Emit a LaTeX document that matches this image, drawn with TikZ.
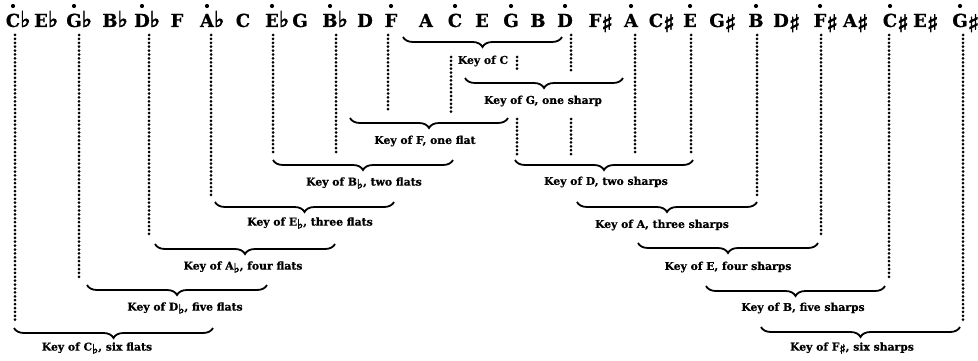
\documentclass[tikz,border=0pt]{standalone}
\usepackage{fontspec}
\setmainfont{DejaVu Serif}[BoldFeatures={FakeBold=0.6}]
\newfontfamily\accfont{DejaVu Sans}[FakeBold=2.5]
\usepackage{tikz}
\usetikzlibrary{decorations.pathreplacing}
\newcommand{\accfl}{{\accfont\fontsize{22}{22}\selectfont ♭}}
\newcommand{\accsh}{\raisebox{-5pt}{\accfont\fontsize{24}{24}\selectfont ♯}}
\newcommand{\keyfl}{\raisebox{-3pt}{\accfont\fontsize{13}{13}\selectfont ♭}}
\newcommand{\keysh}{\raisebox{-3pt}{\accfont\fontsize{13}{13}\selectfont ♯}}
\tikzset{
  notelbl/.style={anchor=base, inner sep=0pt, font=\bfseries\fontsize{18}{20}\selectfont},
  keylbl/.style={inner sep=0pt, font=\bfseries\fontsize{10.8}{12}\selectfont},
  keybrace/.style={decorate, decoration={brace, mirror, amplitude=10pt}, line width=1.8pt},
  guidedot/.style={fill=black},
  notedot/.style={fill, circle, inner sep=0pt, minimum size=4.2pt}
}
\begin{document}
\begin{tikzpicture}[x=1pt, y=-1pt]
  \useasboundingbox (0,0) rectangle (978,361);

  % row of notes, a third apart
  \foreach \x/\n/\a [count=\i from 0] in {13/C/\accfl, 41/E/\accfl, 74/G/\accfl, 110/B/\accfl,
      142/D/\accfl, 177/F/{}, 207/A/\accfl, 243/C/{}, 272/E/\accfl, 300/G/{}, 330/B/\accfl,
      365/D/{}, 391/F/{}, 426/A/{}, 455/C/{}, 482/E/{}, 511/G/{}, 538/B/{}, 565/D/{},
      595/F/\accsh, 631/A/{}, 656/C/\accsh, 690/E/{}, 717/G/\accsh, 756/B/{}, 781/D/\accsh,
      820/F/\accsh, 850/A/\accsh, 890/C/\accsh, 920/E/\accsh, 960/G/\accsh}
    \node[notelbl] (n\i) at (\x,27) {\n\rlap{\a}};

  % dots over the tonics
  \foreach \i in {0,2,...,30}
    \node[notedot] (d\i) at (n\i.base |- 0,6) {};

  % dotted guides
  \foreach \x/\ya/\yb in {15/35/320, 79/35/279, 149/35/237, 211/35/197, 273/35/154,
      336/35/153, 388/35/112, 451/57/113, 517/57/72, 517/119/155, 571/35/72, 571/119/155,
      635/35/153, 691/35/153, 757/35/197, 821/35/237, 889/35/279, 963/35/320}
  {
    \pgfmathsetmacro\yn{\ya+3.9}
    \foreach \y in {\ya,\yn,...,\yb}
      \fill[guidedot] (\x,\y) circle (1.5pt);
  }

  % keys
  \foreach \l/\r/\y/\lx/\ly/\t [count=\k] in {
      403/562/37/483/61/{Key of C},
      465/623/78/543/101/{Key of G, one sharp},
      350/508/118/425/141/{Key of F, one flat},
      273/453/160/364/183/{Key of B\keyfl, two flats},
      515/693/160/606/182/{Key of D, two sharps},
      215/394/202/310/223/{Key of E\keyfl, three flats},
      577/757/202/662/225/{Key of A, three sharps},
      155/335/244/243/267/{Key of A\keyfl, four flats},
      638/818/243/728/267/{Key of E, four sharps},
      87/267/285/185/308/{Key of D\keyfl, five flats},
      706/885/286/803/308/{Key of B, five sharps},
      14/213/328/97/348/{Key of C\keyfl, six flats},
      761/960/327/852/348/{Key of F\keysh, six sharps}}
  {
    \draw[keybrace] (\l,\y) -- (\r,\y);
    \node[keylbl] (k\k) at (\lx,\ly) {\t};
  }
\end{tikzpicture}
\end{document}
